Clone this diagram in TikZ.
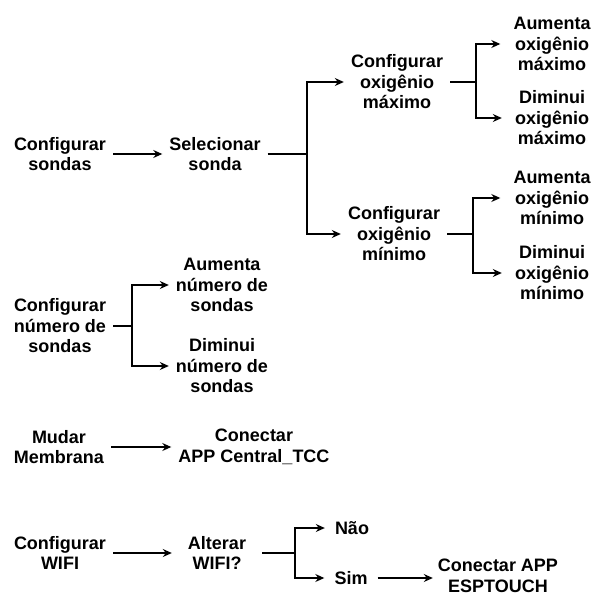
\documentclass[tikz,border=0pt]{standalone}
\usepackage{fontspec}
\setmainfont{Liberation Sans}
\usetikzlibrary{arrows.meta}

\begin{document}
\begin{tikzpicture}[x=1pt,y=-1pt]
    \tikzstyle{T}=[align=center,font=\fontsize{18}{20.5}\selectfont\bfseries,inner xsep=7pt,inner ysep=2pt]
    \tikzstyle{W}=[T,inner xsep=13pt]
    \tikzstyle{A}=[-{Stealth[length=9pt,width=8pt,inset=3pt]},line width=1.2pt]
    \tikzstyle{L}=[line width=1.2pt]

    \useasboundingbox (0,0) rectangle (595,596);

    % Configurar sondas
    \node [T] (cs)   at (60, 154)  {Configurar\\sondas};
    \node [T] (sel)  at (215, 154) {Selecionar\\sonda};
    \node [T] (cmax) at (397, 82)  {Configurar\\oxigênio\\máximo};
    \node [T] (cmin) at (394, 234) {Configurar\\oxigênio\\mínimo};
    \node [W] (amax) at (552, 44)  {Aumenta\\oxigênio\\máximo};
    \node [W] (dmax) at (552, 118) {Diminui\\oxigênio\\máximo};
    \node [W] (amin) at (552, 198) {Aumenta\\oxigênio\\mínimo};
    \node [W] (dmin) at (552, 273) {Diminui\\oxigênio\\mínimo};

    \coordinate (fsel) at (307, 154);
    \coordinate (fmax) at (476, 82);
    \coordinate (fmin) at (473, 234);

    \draw [A] (cs) -- (sel);
    \draw [L] (sel) -- (fsel);
    \draw [A] (fsel) |- (cmax);
    \draw [A] (fsel) |- (cmin);
    \draw [L] (cmax) -- (fmax);
    \draw [A] (fmax) |- (amax);
    \draw [A] (fmax) |- (dmax);
    \draw [L] (cmin) -- (fmin);
    \draw [A] (fmin) |- (amin);
    \draw [A] (fmin) |- (dmin);

    % Numero de sondas
    \node [T] (cn) at (60, 326)  {Configurar\\número de\\sondas};
    \node [T] (an) at (222, 285) {Aumenta\\número de\\sondas};
    \node [T] (dn) at (222, 366) {Diminui\\número de\\sondas};

    \coordinate (fn) at (132, 326);

    \draw [L] (cn) -- (fn);
    \draw [A] (fn) |- (an);
    \draw [A] (fn) |- (dn);

    % Membrana
    \node [T] (mm)   at (59, 447)  {Mudar\\Membrana};
    \node [T] (capp) at (254, 447) {Conectar\\APP Central\_TCC};

    \draw [A] (mm) -- (capp);

    % WIFI
    \node [T] (cw)  at (60, 553)  {Configurar\\WIFI};
    \node [T,inner xsep=16pt] (aw) at (217, 553) {Alterar\\WIFI?};
    \node [T,inner xsep=10pt] (nao) at (352, 528) {Não};
    \node [T,inner xsep=10pt] (sim) at (351, 578) {Sim};
    \node [T,inner xsep=5pt] (esp) at (498, 576) {Conectar APP\\ESPTOUCH};

    \coordinate (fw) at (295, 553);

    \draw [A] (cw) -- (aw);
    \draw [L] (aw) -- (fw);
    \draw [A] (fw) |- (nao);
    \draw [A] (fw) |- (sim);
    \draw [A] (sim) -- (sim -| esp.west);
\end{tikzpicture}
\end{document}
